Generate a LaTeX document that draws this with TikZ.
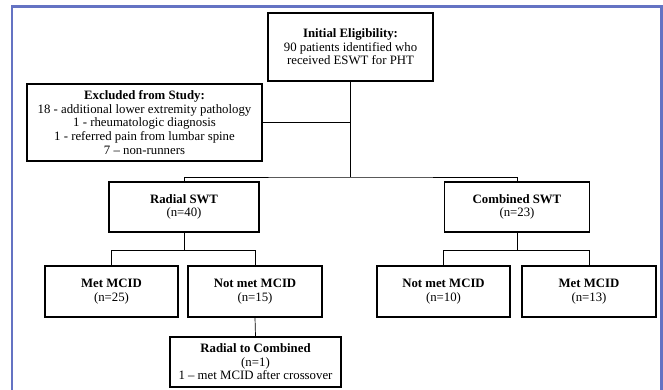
\documentclass[tikz,border=0pt]{standalone}
\usepackage{fontspec}
\setmainfont{Liberation Serif}
\usepackage[dvipsnames]{xcolor}
\usetikzlibrary{positioning}
\usetikzlibrary{calc}
\definecolor{framecol}{RGB}{100,115,195}

\begin{document}
\begin{tikzpicture}[x=1pt, y=-1pt,
	box/.style={draw, line width=1.2pt, align=center, inner sep=0pt, font=\fontsize{12.8}{13.6}\selectfont},
	link/.style={draw, line width=0.7pt}]
	\useasboundingbox (0,0) rectangle (663,390);
	%draw frame
	\draw[framecol, line width=2.6pt] (12,391) -- (12,6.3) -- (661.5,6.3) -- (661.5,391);
	%top boxes
	\node[box, minimum width=165pt, minimum height=68pt] (init) at (350.5,47) {\textbf{Initial Eligibility:}\\90 patients identified who\\received ESWT for PHT};
	\node[box, minimum width=235pt, minimum height=77pt] (excl) at (144.5,122.5) {\textbf{Excluded from Study:}\\18 - additional lower extremity pathology\\1 - rheumatologic diagnosis\\1 - referred pain from lumbar spine\\7 -- non-runners};
	%treatment groups
	\node[box, minimum width=150pt, minimum height=50pt] (radial) at (184,207) {\textbf{Radial SWT}\\(n=40)};
	\node[box, minimum width=145pt, minimum height=50pt] (comb) at (517,207) {\textbf{Combined SWT}\\(n=23)};
	%outcomes
	\node[box, minimum width=133pt, minimum height=51pt] (metR) at (111.5,291.5) {\textbf{Met MCID}\\(n=25)};
	\node[box, minimum width=134pt, minimum height=51pt] (notR) at (255,291.5) {\textbf{Not met MCID}\\(n=15)};
	\node[box, minimum width=133pt, minimum height=51pt] (notC) at (443.5,291.5) {\textbf{Not met MCID}\\(n=10)};
	\node[box, minimum width=134pt, minimum height=51pt] (metC) at (589,291.5) {\textbf{Met MCID}\\(n=13)};
	\node[box, minimum width=171pt, minimum height=50pt] (cross) at (255.5,362) {\textbf{Radial to Combined}\\(n=1)\\1 -- met MCID after crossover};
	%connectors
	\coordinate (split) at (init.south |- 0,177);
	\draw[link] (init.south) -- (split);
	\draw[link] (excl.east) -- (excl.east -| init.south);
	\draw[link] (radial.north) |- (split) -| (comb.north);
	\draw[link] (radial.south) -- ++(0,18) coordinate (rsplit);
	\draw[link] (metR.north) |- (rsplit) -| (notR.north);
	\draw[link] (comb.south) -- ++(0,18) coordinate (csplit);
	\draw[link] (notC.north) |- (csplit) -| (metC.north);
	\draw[link] (notR.south) -- (cross.north);
\end{tikzpicture}
\end{document}
